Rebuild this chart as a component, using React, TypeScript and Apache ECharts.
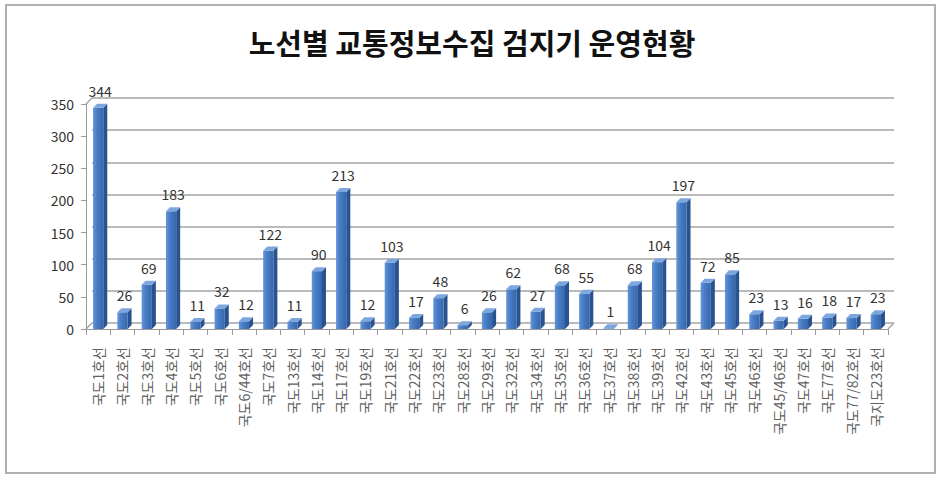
import React, { useEffect, useRef } from "react";
import * as echarts from "echarts";

const TITLE = "노선별 교통정보수집 검지기 운영현황";

const CATEGORIES = [
  "국도1호선", "국도2호선", "국도3호선", "국도4호선", "국도5호선", "국도6호선",
  "국도6/44호선", "국도7호선", "국도13호선", "국도14호선", "국도17호선", "국도19호선",
  "국도21호선", "국도22호선", "국도23호선", "국도28호선", "국도29호선", "국도32호선",
  "국도34호선", "국도35호선", "국도36호선", "국도37호선", "국도38호선", "국도39호선",
  "국도42호선", "국도43호선", "국도45호선", "국도46호선", "국도45/46호선", "국도47호선",
  "국도77호선", "국도77/82호선", "국지도23호선",
];

const VALUES = [
  344, 26, 69, 183, 11, 32, 12, 122, 11, 90, 213, 12, 103, 17, 48, 6, 26, 62, 27, 68,
  55, 1, 68, 104, 197, 72, 85, 23, 13, 16, 18, 17, 23,
];

const Y_MIN = 0;
const Y_MAX = 350;
const Y_INTERVAL = 50;

const FONT = "'Noto Sans CJK KR', 'Noto Sans', sans-serif";

export default function App() {
  const ref = useRef<HTMLDivElement>(null);

  useEffect(() => {
    if (!ref.current) return;
    const chart = echarts.init(ref.current, undefined, { renderer: "svg" });

    const frontGrad = new echarts.graphic.LinearGradient(0, 0, 1, 0, [
      { offset: 0, color: "#6496dc" },
      { offset: 0.35, color: "#4a7ec6" },
      { offset: 1, color: "#3567ab" },
    ]);

    const renderItem = (params: any, api: any) => {
      const idx = api.value(0);
      const val = api.value(1);
      const top = api.coord([idx, val]);
      const base = api.coord([idx, 0]);
      const band = api.size([1, 0])[0];
      const w = band * 0.42;
      const d = 4;
      const x0 = top[0] - w / 2;
      const yT = top[1];
      const yB = base[1];
      return {
        type: "group",
        children: [
          {
            type: "polygon",
            shape: {
              points: [
                [x0 + w, yT],
                [x0 + w + d, yT - d],
                [x0 + w + d, yB - d],
                [x0 + w, yB],
              ],
            },
            style: { fill: "#285290" },
          },
          {
            type: "rect",
            shape: { x: x0, y: yT, width: w, height: Math.max(yB - yT, 0.5) },
            style: { fill: frontGrad },
          },
          {
            type: "polygon",
            shape: {
              points: [
                [x0, yT],
                [x0 + d, yT - d],
                [x0 + w + d, yT - d],
                [x0 + w, yT],
              ],
            },
            style: { fill: "#7ca6de" },
          },
          {
            type: "text",
            style: {
              text: String(val),
              x: x0 + (w + d) / 2,
              y: yT - d - 6,
              align: "center",
              verticalAlign: "bottom",
              fontSize: 14,
              fontFamily: FONT,
              fill: "#333333",
            },
          },
        ],
      };
    };

    const gridColor = "#a3a3a3";

    chart.setOption({
      animation: false,
      backgroundColor: "#ffffff",
      title: {
        text: TITLE,
        left: "center",
        top: 22,
        textStyle: {
          fontSize: 29,
          fontWeight: "bold",
          color: "#111111",
          fontFamily: FONT,
        },
      },
      grid: [
        { left: 86, right: 56, top: 104, bottom: 153 },
        { left: 92, right: 50, top: 98, bottom: 159 },
      ],
      xAxis: [
        {
          type: "category",
          gridIndex: 0,
          data: CATEGORIES,
          boundaryGap: true,
          axisLine: { show: true, lineStyle: { color: "#999999", width: 1 } },
          axisTick: {
            show: true,
            alignWithLabel: false,
            length: 6,
            lineStyle: { color: "#999999" },
          },
          axisLabel: {
            interval: 0,
            rotate: 90,
            margin: 18,
            fontSize: 14,
            color: "#606060",
            fontFamily: FONT,
          },
        },
        {
          type: "category",
          gridIndex: 1,
          data: CATEGORIES,
          show: false,
        },
      ],
      yAxis: [
        {
          type: "value",
          gridIndex: 0,
          min: Y_MIN,
          max: Y_MAX,
          interval: Y_INTERVAL,
          axisLine: { show: true, lineStyle: { color: "#999999", width: 1 } },
          axisTick: { show: true, length: 5, lineStyle: { color: "#999999" } },
          axisLabel: {
            margin: 12,
            fontSize: 14,
            color: "#333333",
            fontFamily: FONT,
          },
          splitLine: { show: false },
        },
        {
          type: "value",
          gridIndex: 1,
          min: Y_MIN,
          max: Y_MAX,
          interval: Y_INTERVAL,
          axisLine: { show: false },
          axisTick: { show: false },
          axisLabel: { show: false },
          splitLine: { show: true, lineStyle: { color: gridColor, width: 1.5 } },
        },
      ],
      graphic: [
        {
          type: "rect",
          shape: { x: 6, y: 5, width: 929, height: 468 },
          style: { fill: "none", stroke: "#b0b0b0", lineWidth: 2 },
          silent: true,
        },
        {
          type: "line",
          shape: { x1: 86, y1: 104, x2: 92, y2: 98 },
          style: { stroke: gridColor, lineWidth: 1.5 },
        },
        {
          type: "line",
          shape: { x1: 86, y1: 329, x2: 92, y2: 323 },
          style: { stroke: gridColor, lineWidth: 1.5 },
        },
        {
          type: "line",
          shape: { x1: 888, y1: 329, x2: 894, y2: 323 },
          style: { stroke: gridColor, lineWidth: 1.5 },
        },
      ],
      series: [
        {
          type: "custom",
          xAxisIndex: 0,
          yAxisIndex: 0,
          renderItem,
          encode: { x: 0, y: 1 },
          data: VALUES.map((v, i) => [i, v]),
          z: 10,
        },
      ],
    });

    return () => chart.dispose();
  }, []);

  return (
    <div
      ref={ref}
      style={{ position: "fixed", left: 0, top: 0, width: 944, height: 482 }}
    />
  );
}
